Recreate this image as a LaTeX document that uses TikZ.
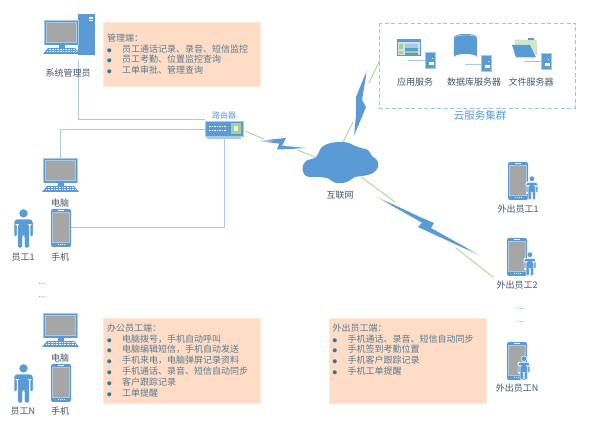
\documentclass[tikz,border=0pt]{standalone}
\usepackage{fontspec}
\setmainfont{Noto Sans CJK SC}
\usetikzlibrary{positioning}
\definecolor{iconblue}{HTML}{5B9BD5}
\definecolor{paleblue}{HTML}{A9C9E8}
\definecolor{dashblue}{HTML}{9DC3E6}
\definecolor{linkgreen}{HTML}{A9D18E}
\definecolor{screengrey}{HTML}{A6A6A6}
\definecolor{notepeach}{HTML}{FFDCC6}
\definecolor{noteedge}{HTML}{FFE8DA}
\definecolor{notetextcol}{HTML}{587C93}
\definecolor{dotblue}{HTML}{2E78A6}
\definecolor{labelcol}{HTML}{44546A}
\pgfdeclareverticalshading{boltfade}{100bp}{color(0bp)=(white); color(27bp)=(white); color(41bp)=(iconblue); color(59bp)=(iconblue); color(73bp)=(white); color(100bp)=(white)}
\pgfdeclareverticalshading{boltfadeb}{100bp}{color(0bp)=(white); color(15bp)=(white); color(27bp)=(iconblue); color(73bp)=(iconblue); color(85bp)=(white); color(100bp)=(white)}
\newcommand{\noteitem}[1]{\makebox[15pt][l]{\textcolor{dotblue}{\fontsize{4.5}{5}\selectfont ●}}#1}
\tikzset{
	wire/.style={paleblue, line width=1pt},
	greenlink/.style={linkgreen, line width=0.8pt},
	iconlabel/.style={text=labelcol, font=\fontsize{9}{10}\selectfont, inner sep=0pt},
	notebox/.style={fill=notepeach, draw=noteedge, line width=0.6pt, anchor=north west, minimum width=157pt, inner sep=0pt},
	notetext/.style={anchor=north west, align=left, text=notetextcol, inner sep=0pt, font=\fontsize{9}{10.8}\selectfont},
	moredots/.style={text=iconblue, font=\fontsize{8}{9}\selectfont, inner sep=0pt},
	pics/monitor/.style={code={
		\fill[paleblue] (0,0) rectangle (35,25.5);
		\fill[iconblue] (0.6,0.6) rectangle (34.4,24.9);
		\fill[paleblue] (1.8,1.8) rectangle (33.2,23.2);
		\fill[screengrey] (2.6,2.6) rectangle (32.4,22.2);
		\fill[iconblue] (14.5,25.5) rectangle (20.5,28.5);
		\fill[iconblue] (4,28) -- (31,28) -- (36,34) -- (-1,34) -- cycle;
		\foreach \rowy/\rowa/\rowb in {29.6/4.5/30.5, 31.8/3/32}
			\draw[white, line width=0.9pt, dash pattern=on 1pt off 0.6pt] (\rowa,\rowy) -- (\rowb,\rowy);
	}},
	pics/handset/.style={code={
		\fill[iconblue, rounded corners=2pt] (0,0) rectangle (20,38);
		\fill[paleblue] (1.3,3.4) rectangle (18.7,33.6);
		\fill[screengrey] (2,4.2) rectangle (18,32.8);
		\draw[white, line width=0.6pt] (7,1.8) -- (13,1.8);
		\draw[white, line width=0.8pt, dash pattern=on 1pt off 1pt] (6.8,35.8) -- (13.4,35.8);
	}},
	pics/staff/.style={code={
		\fill[iconblue, draw=white, line width=0.5pt] (9.5,4.4) circle (4.6);
		\fill[iconblue, draw=white, line width=0.5pt, rounded corners=1.5pt] (1.2,10.2) -- (17.8,10.2) -- (19,12) -- (19,28) -- (16,28) -- (16,15.5) -- (15.4,15.5) -- (15.4,39) -- (10.3,39) -- (10.3,27) -- (8.7,27) -- (8.7,39) -- (3.6,39) -- (3.6,15.5) -- (3,15.5) -- (3,28) -- (0,28) -- (0,12) -- cycle;
	}},
	pics/server/.style={code={
		\fill[iconblue, draw=paleblue, line width=0.5pt] (0,0) rectangle (10.5,16.5);
		\fill[white] (3.5,10) rectangle (9,13.5);
		\fill[white] (7,5.8) rectangle (8.4,7.2);
	}},
}
\begin{document}
\begin{tikzpicture}[x=1pt, y=-1pt]
	\useasboundingbox (0,0) rectangle (592,427);
	% anchors for the connectors
	\coordinate (adminpc) at (78,61);
	\coordinate (pcone) at (60,158);
	\coordinate (phoneone) at (71,228);
	\coordinate (routerup) at (205,120);
	\coordinate (routermid) at (205,130);
	\node (router) at (224,128.5) [fill=iconblue, draw=paleblue, line width=0.4pt, minimum width=38pt, minimum height=15pt, inner sep=0pt] {};
	\draw[wire] (adminpc) |- (routerup);
	\draw[wire] (pcone) |- (routermid);
	\draw[wire] (router.south) |- (phoneone);
	\fill[paleblue] (207,136.5) rectangle (241,138.8);
	\fill[linkgreen] (231,123.5) rectangle (241,134);
	\fill[white!70!linkgreen] (234,126) rectangle (238,131.5);
	\draw[white, line width=1pt, dash pattern=on 1.6pt off 0.9pt] (209,126.5) -- (226,126.5);
	\draw[white, line width=1pt, dash pattern=on 1.6pt off 0.9pt] (209,130.5) -- (226,130.5);
	\node (routerlabel) at (224,115) [iconlabel, text=iconblue, font=\fontsize{8}{9}\selectfont] {路由器};

	% admin
	\fill[iconblue] (78,14) rectangle (95,55);
	\fill[white] (88.5,17.5) rectangle (92.5,19);
	\fill[white] (88.5,20) rectangle (92.5,21.5);
	\pic at (44,20) {monitor};
	\node (adminlabel) at (68,73) [iconlabel] {系统管理员};

	% staff 1
	\pic at (43,158) {monitor};
	\node (pclabel) at (60,203) [iconlabel] {电脑};
	\pic at (51,209) {handset};
	\node (phonelabel) at (60,257) [iconlabel] {手机};
	\pic at (14,209) {staff};
	\node (stafflabel) at (23,257) [iconlabel] {员工1};
	\node (leftdots) at (42,284) [moredots] {...};
	\node (leftdotsb) at (42,297) [moredots] {...};

	% staff N
	\pic at (43,313) {monitor};
	\node (pcnlabel) at (60,358) [iconlabel] {电脑};
	\pic at (51,364) {handset};
	\node (phonenlabel) at (60,411) [iconlabel] {手机};
	\pic at (14,364) {staff};
	\node (staffnlabel) at (23,411) [iconlabel] {员工N};

	% notes
	\node (adminbox) at (103,22) [notebox, minimum height=64pt] {};
	\node (admintext) at (107,33.5) [notetext] {管理端：\\\noteitem{员工通话记录、录音、短信监控}\\\noteitem{员工考勤、位置监控查询}\\\noteitem{工单审批、管理查询}};
	\node (officebox) at (103,318) [notebox, minimum height=85pt] {};
	\node (officetext) at (107,323.5) [notetext] {办公员工端：\\\noteitem{电脑拨号，手机自动呼叫}\\\noteitem{电脑编辑短信，手机自动发送}\\\noteitem{手机来电，电脑弹屏记录资料}\\\noteitem{手机通话、录音、短信自动同步}\\\noteitem{客户跟踪记录}\\\noteitem{工单提醒}};
	\node (fieldbox) at (329,318) [notebox, minimum height=85pt] {};
	\node (fieldtext) at (332.5,323.5) [notetext] {外出员工端：\\\noteitem{手机通话、录音、短信自动同步}\\\noteitem{手机签到考勤位置}\\\noteitem{手机客户跟踪记录}\\\noteitem{手机工单提醒}};

	% cloud
	\fill[iconblue] plot[smooth cycle, tension=0.6] coordinates {(302.5,168) (306,161) (316,157) (322,147) (333,142.5) (347,142.5) (355,146) (361,148) (368,150) (372,156) (377,160) (378,167) (373,173) (363,176) (355,177) (347,182) (336,183) (327,178) (317,177) (306,176)};
	\node (cloud) at (340,162) [inner sep=0pt] {};
	\node (cloudlabel) at (340,195) [iconlabel] {互联网};

	% green links and bolts
	\coordinate (routerout) at (245,131);
	\coordinate (routerend) at (264,139);
	\coordinate (cloudwa) at (297,150);
	\coordinate (cloudwb) at (315,157);
	\coordinate (cloudna) at (343,142);
	\coordinate (cloudnb) at (353,122);
	\coordinate (clusterb) at (369,83);
	\coordinate (clustera) at (380,60);
	\coordinate (cloudsa) at (361,177);
	\coordinate (cloudsb) at (395,202);
	\coordinate (fielda) at (456,248);
	\coordinate (fieldb) at (493,277);
	\draw[greenlink] (routerout) -- (routerend);
	\draw[greenlink] (cloudwa) -- (cloudwb);
	\draw[greenlink] (cloudna) -- (cloudnb);
	\draw[greenlink] (clusterb) -- (clustera);
	\draw[greenlink] (cloudsa) -- (cloudsb);
	\draw[greenlink] (fielda) -- (fieldb);
	\shade[shading=boltfade, shading angle=90] (255,141) -- (286,138) -- (282,146) -- (312,148) -- (277,149.5) -- (279,143.5) -- cycle;
	\shade[shading=boltfadeb, shading angle=-10] (367,70) -- (362,100) -- (366,107) -- (354,136) -- (356,115) -- (356,97) -- cycle;
	\shade[shading=boltfadeb, shading angle=60] (373,195) -- (420,217) -- (434,223) -- (431,228) -- (483,257) -- (418,227) -- (422,222.7) -- cycle;

	% cloud services
	\draw[dashblue, line width=0.9pt, dash pattern=on 4pt off 2.5pt] (379,23) rectangle (575,108);
	\node (clusterlabel) at (480,116) [iconlabel, text=iconblue, font=\fontsize{10.5}{12}\selectfont] {云服务集群};
	\fill[iconblue] (397,39) rectangle (421,56);
	\fill[white!70!iconblue] (398,42) rectangle (420,55);
	\fill[linkgreen] (399,44) rectangle (403,49);
	\fill[iconblue] (404.5,47) rectangle (418,55);
	\fill[paleblue] (405,44) rectangle (418,48);
	\fill[linkgreen] (405,51.5) rectangle (418,53.5);
	\fill[linkgreen] (399,51) rectangle (403,54);
	\draw[paleblue, line width=0.7pt] (408,60.5) -- (425,60.5);
	\pic at (425,52) {server};
	\node (applabel) at (415,82) [iconlabel] {应用服务};
	\fill[iconblue] (454,37) -- (454,57) arc[start angle=180, end angle=360, x radius=11.5, y radius=3] -- (477,37) -- cycle;
	\fill[iconblue] (465.5,37) ellipse (11.5 and 3);
	\draw[paleblue, line width=0.6pt] (454,38) arc[start angle=180, end angle=360, x radius=11.5, y radius=3];
	\draw[paleblue, line width=1pt] (465,64.5) -- (481,64.5);
	\pic at (481,55) {server};
	\node (dblabel) at (474,82) [iconlabel] {数据库服务器};
	\fill[white!50!linkgreen, draw=paleblue, line width=0.4pt] (515,40) -- (536,40) -- (537,55) -- (515,55) -- cycle;
	\fill[iconblue] (528,38) rectangle (534,40.5);
	\fill[iconblue] (512,45) -- (530,45) -- (536,57.5) -- (516,57.5) -- cycle;
	\draw[paleblue, line width=0.7pt] (524,61) -- (541,61);
	\pic at (541,53) {server};
	\node (filelabel) at (531,82) [iconlabel] {文件服务器};

	% field staff
	\pic at (508,162) {handset};
	\pic at (526,176) [scale=0.62] {staff};
	\node (fieldonelabel) at (518,209) [iconlabel] {外出员工1};
	\pic at (507,238) {handset};
	\pic at (524,252) [scale=0.62] {staff};
	\node (fieldtwolabel) at (517,285) [iconlabel] {外出员工2};
	\node (rightdots) at (521,309) [moredots] {...};
	\node (rightdotsb) at (521,322) [moredots] {...};
	\pic at (507,342) {handset};
	\pic at (518,356) [scale=0.62] {staff};
	\node (fieldnlabel) at (517,388) [iconlabel] {外出员工N};
\end{tikzpicture}
\end{document}
